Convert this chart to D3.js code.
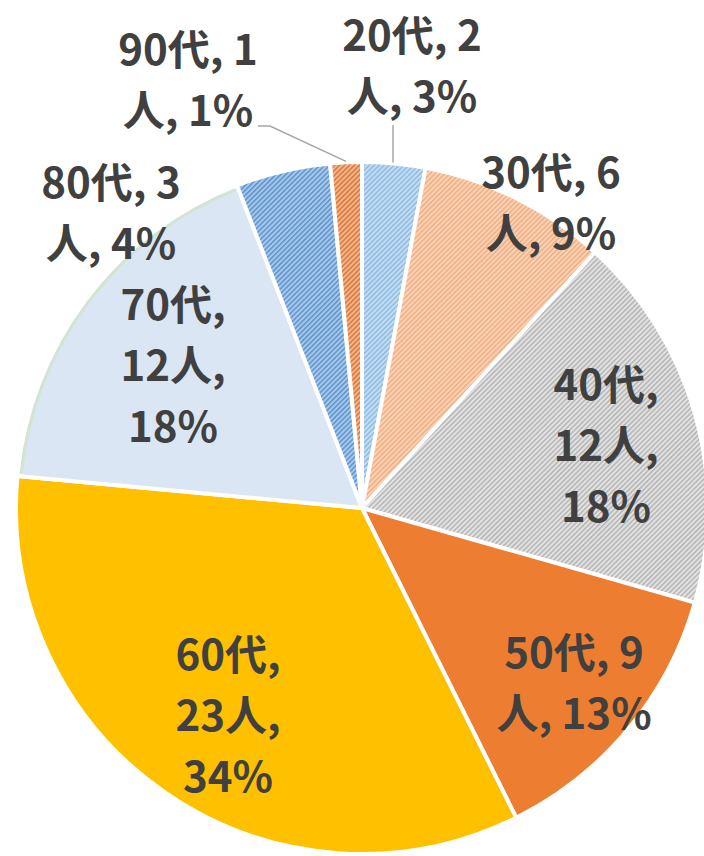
<!DOCTYPE html>
<html>
<head>
<meta charset="utf-8">
<script src="https://cdn.jsdelivr.net/npm/d3@7"></script>
<style>
  html, body { margin: 0; padding: 0; background: #ffffff; }
  svg { display: block; }
</style>
</head>
<body>
<svg id="chart" width="704" height="856"></svg>
<script>
// ---- data ----
const categories = ["20代", "30代", "40代", "50代", "60代", "70代", "80代", "90代"];
const counts     = [2, 6, 12, 9, 23, 12, 3, 1];
const percents   = ["3%", "9%", "18%", "13%", "34%", "18%", "4%", "1%"];
// label text lines (as shown in the chart)
const labelLines = [
  ["20代, 2", "人, 3%"],
  ["30代, 6", "人, 9%"],
  ["40代,", "12人,", "18%"],
  ["50代, 9", "人, 13%"],
  ["60代,", "23人,", "34%"],
  ["70代,", "12人,", "18%"],
  ["80代, 3", "人, 4%"],
  ["90代, 1", "人, 1%"]
];

// ---- layout / style ----
const W = 704, H = 856;
const cx = 362, cy = 508, R = 346;
const fills = [
  {type: "hatch", fg: "#8dbbe4", bg: "#c4dcf1"},
  {type: "hatch", fg: "#f2ad80", bg: "#f9d3b8"},
  {type: "hatch", fg: "#b4b4b4", bg: "#e2e2e2"},
  {type: "solid", color: "#ed7d31"},
  {type: "solid", color: "#ffc000"},
  {type: "solid", color: "#dae6f4"},
  {type: "hatch", fg: "#5b93cf", bg: "#a9c8e8"},
  {type: "hatch", fg: "#dd7535", bg: "#f1b68d"}
];
// label block anchors, relative to the pie center (first baseline)
const labelOffsets = [
  [50, -457], [189, -320], [244, -108], [212, 160],
  [-134, 162], [-189, -188], [-251, -310], [-174, -443]
];
const lineHeight = 61;
const fontSize = 42;

const svg = d3.select("#chart");
const defs = svg.append("defs");

fills.forEach((f, i) => {
  if (f.type !== "hatch") return;
  const p = defs.append("pattern")
    .attr("id", "hatch" + i)
    .attr("patternUnits", "userSpaceOnUse")
    .attr("width", 3.5).attr("height", 3.5)
    .attr("patternTransform", "rotate(45)");
  p.append("rect").attr("width", 3.5).attr("height", 3.5).attr("fill", f.bg);
  p.append("rect").attr("width", 1.5).attr("height", 3.5).attr("fill", f.fg);
});

const pie = d3.pie().sort(null).value(d => d)(counts);
const arc = d3.arc().innerRadius(0).outerRadius(R);

const g = svg.append("g").attr("transform", `translate(${cx},${cy})`);

g.selectAll("path.slice")
  .data(pie)
  .join("path")
  .attr("class", "slice")
  .attr("d", arc)
  .attr("fill", (d, i) => fills[i].type === "hatch" ? `url(#hatch${i})` : fills[i].color)
  .attr("stroke", "#ffffff")
  .attr("stroke-width", 4)
  .attr("stroke-linejoin", "round");

// soft greenish rim on the pale 70代 slice
const rim = d3.arc().innerRadius(R - 5).outerRadius(R - 2);
g.append("path")
  .datum(pie[5])
  .attr("d", d => rim({startAngle: d.startAngle + 0.01, endAngle: d.endAngle - 0.01}))
  .attr("fill", "#cfe3c9")
  .attr("opacity", 0.8);

// leader lines for the two outside labels (20代, 90代)
function edgePoint(d) {
  const a = (d.startAngle + d.endAngle) / 2;
  return [Math.sin(a) * (R + 1), -Math.cos(a) * (R + 1)];
}
{
  const p0 = edgePoint(pie[0]);
  g.append("path")
    .attr("d", d3.line()([[p0[0] - 1, p0[1]], [p0[0] - 1, labelOffsets[0][1] + lineHeight + 13]]))
    .attr("stroke", "#a6a6a6").attr("stroke-width", 1.5).attr("fill", "none");
  const p7 = edgePoint(pie[7]);
  const ly = labelOffsets[7][1] + lineHeight;
  g.append("path")
    .attr("d", d3.line()([[p7[0], p7[1]], [-92, ly], [-104, ly]]))
    .attr("stroke", "#a6a6a6").attr("stroke-width", 1.5).attr("fill", "none");
}

// labels
const labels = g.selectAll("text.lbl")
  .data(pie)
  .join("text")
  .attr("class", "lbl")
  .attr("text-anchor", "middle")
  .attr("font-family", "'Noto Sans CJK JP', 'Noto Sans', sans-serif")
  .attr("font-weight", "bold")
  .attr("font-size", fontSize)
  .attr("fill", "#404040")
  .attr("transform", (d, i) => `translate(${labelOffsets[i][0]},${labelOffsets[i][1]})`);

labels.each(function(d, i) {
  const t = d3.select(this);
  labelLines[i].forEach((line, j) => {
    t.append("tspan").attr("x", 0).attr("y", j * lineHeight).text(line);
  });
});
</script>
</body>
</html>
